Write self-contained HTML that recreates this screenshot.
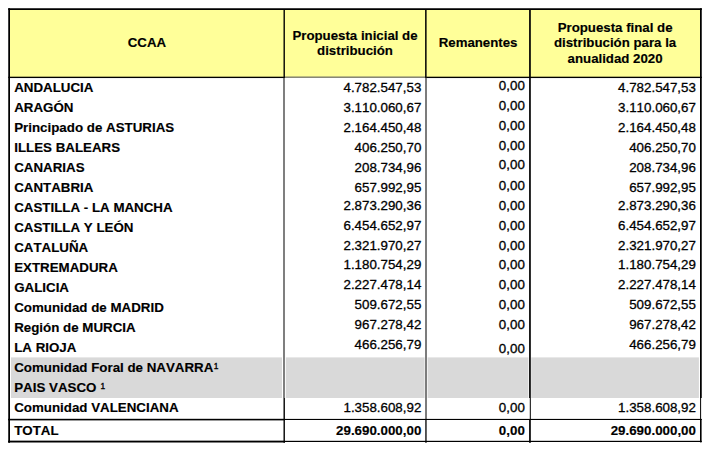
<!DOCTYPE html>
<html><head><meta charset="utf-8"><title>Tabla CCAA</title>
<style>
html,body{margin:0;padding:0;background:#fff;}
body{font-kerning:none;width:710px;height:450px;position:relative;overflow:hidden;font-family:"Liberation Sans",sans-serif;color:#000;}
svg{position:absolute;left:0;top:0;}
.t{position:absolute;white-space:nowrap;line-height:normal;-webkit-text-stroke:0.3px #000;}
.t.bd{-webkit-text-stroke:0.15px #000;}
.h{position:absolute;text-align:center;font-weight:bold;font-size:13.25px;-webkit-text-stroke:0.15px #000;line-height:15.3px;}
sup{font-size:8.4px;font-weight:normal;vertical-align:baseline;position:relative;top:-3.3px;left:0.3px;-webkit-text-stroke:0.35px #000;}
</style></head><body>
<svg width="710" height="450" viewBox="0 0 710 450">
<rect x="9.00" y="9.00" width="692.00" height="68.30" fill="#ffff99"/>
<rect x="11.00" y="357.40" width="271.00" height="40.60" fill="#d9d9d9"/>
<rect x="285.80" y="357.40" width="138.80" height="40.60" fill="#d9d9d9"/>
<rect x="427.60" y="357.40" width="100.80" height="40.60" fill="#d9d9d9"/>
<rect x="531.20" y="357.40" width="167.70" height="40.60" fill="#d9d9d9"/>
<rect x="8.30" y="76.70" width="276.60" height="1.35" fill="#000"/>
<rect x="284.90" y="76.50" width="140.30" height="1.40" fill="#7a7a6c"/>
<rect x="425.20" y="76.70" width="276.60" height="1.35" fill="#000"/>
<rect x="283.50" y="9.00" width="1.40" height="68.90" fill="#000"/>
<rect x="283.20" y="77.90" width="1.60" height="320.10" fill="#606060"/>
<rect x="283.50" y="398.00" width="1.40" height="44.80" fill="#000"/>
<rect x="425.10" y="9.00" width="1.50" height="68.90" fill="#000"/>
<rect x="425.00" y="77.90" width="2.00" height="341.10" fill="#7c7c7c"/>
<rect x="425.30" y="419.00" width="1.30" height="23.80" fill="#000"/>
<rect x="529.10" y="9.00" width="1.70" height="389.00" fill="#000"/>
<rect x="529.80" y="398.00" width="1.00" height="21.00" fill="#000"/>
<rect x="529.10" y="419.00" width="1.70" height="23.80" fill="#000"/>
<rect x="8.25" y="8.25" width="693.55" height="1.75" fill="#000"/>
<rect x="8.25" y="8.25" width="1.75" height="434.55" fill="#000"/>
<rect x="700.00" y="8.25" width="1.75" height="389.75" fill="#000"/>
<rect x="700.10" y="398.00" width="1.00" height="21.00" fill="#000"/>
<rect x="700.00" y="419.00" width="1.60" height="23.40" fill="#000"/>
<rect x="8.30" y="418.90" width="693.50" height="1.10" fill="#000"/>
<rect x="8.30" y="418.90" width="276.60" height="1.50" fill="#000"/>
<rect x="8.30" y="440.80" width="693.50" height="1.20" fill="#000"/>
<rect x="8.30" y="440.80" width="276.60" height="1.70" fill="#000"/>
</svg>
<div class="h" style="left:10.4px;width:273px;top:35.2px;">CCAA</div>
<div class="h" style="left:285px;width:140px;top:28.1px;">Propuesta inicial de<br>distribución</div>
<div class="h" style="left:427.1px;width:102px;top:35.2px;">Remanentes</div>
<div class="h" style="left:530.6px;width:169px;top:20.2px;">Propuesta final de<br>distribución para la<br>anualidad 2020</div>
<div class="t bd" style="top:80.00px;font-size:13.33px;font-weight:bold;left:14.20px;">ANDALUCIA</div>
<div class="t" style="top:80.00px;font-size:13.33px;right:288.70px;">4.782.547,53</div>
<div class="t" style="top:78.00px;font-size:13.33px;right:185.20px;">0,00</div>
<div class="t" style="top:80.00px;font-size:13.33px;right:14.10px;">4.782.547,53</div>
<div class="t bd" style="top:100.00px;font-size:13.33px;font-weight:bold;left:14.20px;">ARAGÓN</div>
<div class="t" style="top:100.00px;font-size:13.33px;right:288.70px;">3.110.060,67</div>
<div class="t" style="top:98.00px;font-size:13.33px;right:185.20px;">0,00</div>
<div class="t" style="top:100.00px;font-size:13.33px;right:14.10px;">3.110.060,67</div>
<div class="t bd" style="top:120.00px;font-size:13.33px;font-weight:bold;left:14.20px;">Principado de ASTURIAS</div>
<div class="t" style="top:120.00px;font-size:13.33px;right:288.70px;">2.164.450,48</div>
<div class="t" style="top:118.00px;font-size:13.33px;right:185.20px;">0,00</div>
<div class="t" style="top:120.00px;font-size:13.33px;right:14.10px;">2.164.450,48</div>
<div class="t bd" style="top:140.00px;font-size:13.33px;font-weight:bold;left:14.20px;">ILLES BALEARS</div>
<div class="t" style="top:140.00px;font-size:13.33px;right:288.70px;">406.250,70</div>
<div class="t" style="top:138.00px;font-size:13.33px;right:185.20px;">0,00</div>
<div class="t" style="top:140.00px;font-size:13.33px;right:14.10px;">406.250,70</div>
<div class="t bd" style="top:160.00px;font-size:13.33px;font-weight:bold;left:14.20px;">CANARIAS</div>
<div class="t" style="top:160.00px;font-size:13.33px;right:288.70px;">208.734,96</div>
<div class="t" style="top:157.00px;font-size:13.33px;right:185.20px;">0,00</div>
<div class="t" style="top:160.00px;font-size:13.33px;right:14.10px;">208.734,96</div>
<div class="t bd" style="top:180.00px;font-size:13.33px;font-weight:bold;left:14.20px;">CANTABRIA</div>
<div class="t" style="top:180.00px;font-size:13.33px;right:288.70px;">657.992,95</div>
<div class="t" style="top:178.00px;font-size:13.33px;right:185.20px;">0,00</div>
<div class="t" style="top:180.00px;font-size:13.33px;right:14.10px;">657.992,95</div>
<div class="t bd" style="top:200.00px;font-size:13.33px;font-weight:bold;left:14.20px;">CASTILLA - LA MANCHA</div>
<div class="t" style="top:198.00px;font-size:13.33px;right:288.70px;">2.873.290,36</div>
<div class="t" style="top:198.00px;font-size:13.33px;right:185.20px;">0,00</div>
<div class="t" style="top:198.00px;font-size:13.33px;right:14.10px;">2.873.290,36</div>
<div class="t bd" style="top:220.00px;font-size:13.33px;font-weight:bold;left:14.20px;">CASTILLA Y LEÓN</div>
<div class="t" style="top:218.00px;font-size:13.33px;right:288.70px;">6.454.652,97</div>
<div class="t" style="top:218.00px;font-size:13.33px;right:185.20px;">0,00</div>
<div class="t" style="top:218.00px;font-size:13.33px;right:14.10px;">6.454.652,97</div>
<div class="t bd" style="top:240.00px;font-size:13.33px;font-weight:bold;left:14.20px;">CATALUÑA</div>
<div class="t" style="top:238.00px;font-size:13.33px;right:288.70px;">2.321.970,27</div>
<div class="t" style="top:238.00px;font-size:13.33px;right:185.20px;">0,00</div>
<div class="t" style="top:238.00px;font-size:13.33px;right:14.10px;">2.321.970,27</div>
<div class="t bd" style="top:260.00px;font-size:13.33px;font-weight:bold;left:14.20px;">EXTREMADURA</div>
<div class="t" style="top:257.00px;font-size:13.33px;right:288.70px;">1.180.754,29</div>
<div class="t" style="top:257.00px;font-size:13.33px;right:185.20px;">0,00</div>
<div class="t" style="top:257.00px;font-size:13.33px;right:14.10px;">1.180.754,29</div>
<div class="t bd" style="top:280.00px;font-size:13.33px;font-weight:bold;left:14.20px;">GALICIA</div>
<div class="t" style="top:277.00px;font-size:13.33px;right:288.70px;">2.227.478,14</div>
<div class="t" style="top:277.00px;font-size:13.33px;right:185.20px;">0,00</div>
<div class="t" style="top:277.00px;font-size:13.33px;right:14.10px;">2.227.478,14</div>
<div class="t bd" style="top:300.00px;font-size:13.33px;font-weight:bold;left:14.20px;">Comunidad de MADRID</div>
<div class="t" style="top:297.00px;font-size:13.33px;right:288.70px;">509.672,55</div>
<div class="t" style="top:297.00px;font-size:13.33px;right:185.20px;">0,00</div>
<div class="t" style="top:297.00px;font-size:13.33px;right:14.10px;">509.672,55</div>
<div class="t bd" style="top:320.00px;font-size:13.33px;font-weight:bold;left:14.20px;">Región de MURCIA</div>
<div class="t" style="top:317.00px;font-size:13.33px;right:288.70px;">967.278,42</div>
<div class="t" style="top:317.00px;font-size:13.33px;right:185.20px;">0,00</div>
<div class="t" style="top:317.00px;font-size:13.33px;right:14.10px;">967.278,42</div>
<div class="t bd" style="top:340.00px;font-size:13.33px;font-weight:bold;left:14.20px;">LA RIOJA</div>
<div class="t" style="top:337.00px;font-size:13.33px;right:288.70px;">466.256,79</div>
<div class="t" style="top:341.00px;font-size:13.33px;right:185.20px;">0,00</div>
<div class="t" style="top:337.00px;font-size:13.33px;right:14.10px;">466.256,79</div>
<div class="t bd" style="top:360.00px;font-size:13.33px;font-weight:bold;left:14.20px;">Comunidad Foral de NAVARRA<sup>1</sup></div>
<div class="t bd" style="top:380.00px;font-size:13.33px;font-weight:bold;left:14.20px;">PAIS VASCO <sup>1</sup></div>
<div class="t bd" style="top:400.00px;font-size:13.33px;font-weight:bold;left:14.20px;">Comunidad VALENCIANA</div>
<div class="t" style="top:400.00px;font-size:13.33px;right:288.70px;">1.358.608,92</div>
<div class="t" style="top:400.00px;font-size:13.33px;right:185.20px;">0,00</div>
<div class="t" style="top:400.00px;font-size:13.33px;right:14.10px;">1.358.608,92</div>
<div class="t bd" style="top:423.00px;font-size:13.33px;font-weight:bold;left:14.20px;">TOTAL</div>
<div class="t bd" style="top:423.00px;font-size:13.33px;font-weight:bold;right:288.70px;">29.690.000,00</div>
<div class="t bd" style="top:423.00px;font-size:13.33px;font-weight:bold;right:185.20px;">0,00</div>
<div class="t bd" style="top:423.00px;font-size:13.33px;font-weight:bold;right:14.10px;">29.690.000,00</div>
</body></html>
